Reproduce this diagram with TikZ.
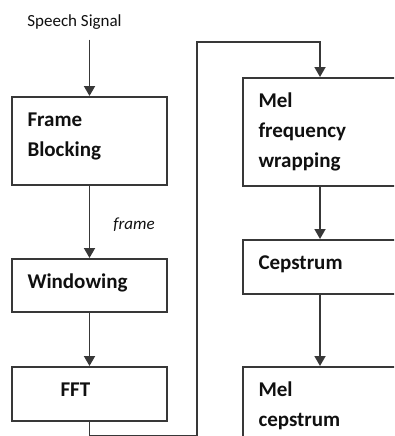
\documentclass[tikz,border=0pt]{standalone}
\usepackage{fontspec}
\setmainfont{Carlito}
\usetikzlibrary{arrows.meta}
\definecolor{ink}{HTML}{101010}
\definecolor{ink2}{HTML}{383838}
\tikzset{
  >={Triangle[length=10pt,width=11pt]},
  box/.style={draw=ink2, fill=white, line width=2pt, anchor=north west,
    text width=#1, align=left, inner xsep=15.5pt, inner ysep=0pt, text height=29pt,
    font=\fontsize{21}{30}\selectfont\bfseries, text=ink},
  arr/.style={->, draw=ink2, line width=1.8pt},
  sig/.style={font=\fontsize{17}{20}\selectfont, text=ink, inner sep=10pt},
  tlbl/.style={font=\fontsize{17}{20}\selectfont\itshape, text=ink, inner sep=1pt},
}

\begin{document}
\begin{tikzpicture}[x=1pt, y=-1pt]
  \useasboundingbox (0,0) rectangle (394,436);
  \clip (0,0) rectangle (394,436);
  % ===================== left column =====================
  \node[sig] (sig) at (74.5,22) {Speech Signal};
  \node[box={124pt}, text depth=59pt] (frame) at (11,96) {Frame\\Blocking};
  \node[box={124pt}, text depth=24pt] (win) at (11,258) {Windowing};
  \node[box={124pt}, text depth=25pt] (fft) at (11,366) {\hspace*{33pt}FFT};
  \node[tlbl] (lblframe) at (134,225) {frame};

  % ===================== right column =====================
  \node[box={123pt}, text depth=79pt] (melf) at (242,77) {Mel\\frequency\\wrapping};
  \node[box={123pt}, text depth=25pt] (cep) at (242,239) {Cepstrum};
  \node[box={123pt}, text depth=90pt] (melc) at (242,366) {Mel\\cepstrum};

  % ===================== connectors =====================
  \coordinate (loopA) at (197,435.5);
  \coordinate (loopB) at ([yshift=35pt]melf.north);
  \draw[arr] (sig.south -| frame.north) -- (frame.north);
  \draw[arr] (frame.south) -- (win.north);
  \draw[arr] (win.south) -- (fft.north);
  \draw[arr] (fft.south) |- (loopA) |- (loopB) -- (melf.north);
  \draw[arr] (melf.south) -- (cep.north);
  \draw[arr] (cep.south) -- (melc.north);
\end{tikzpicture}
\end{document}
